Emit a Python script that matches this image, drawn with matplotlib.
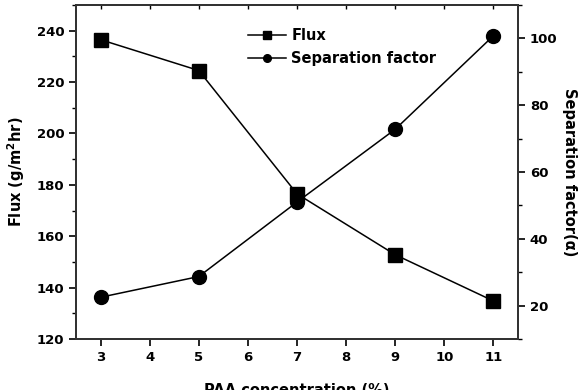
import matplotlib.pyplot as plt
from matplotlib.ticker import MultipleLocator

# data
paa = [3, 5, 7, 9, 11]
flux = [236.5, 224.5, 176.5, 152.8, 134.8]
sep_factor = [22.5, 28.7, 51, 72.8, 100.8]

plt.rcParams['font.family'] = 'DejaVu Sans'
plt.rcParams['font.weight'] = 'bold'
plt.rcParams['font.size'] = 9.5

fig = plt.figure(figsize=(5.81, 3.90), dpi=100)
ax = fig.add_axes([76 / 581, 1 - 339 / 390, 442 / 581, 334 / 390])
ax2 = ax.twinx()

l1, = ax.plot(paa, flux, color='black', lw=1.1, marker='s', ms=10, label='Flux')
l2, = ax2.plot(paa, sep_factor, color='black', lw=1.1, marker='o', ms=10,
               label='Separation factor')

ax.set_xlim(2.5, 11.5)
ax.set_ylim(120, 250)
ax2.set_ylim(10, 110)
ax.set_xticks(range(3, 12))
ax.set_yticks(range(120, 241, 20))
ax.yaxis.set_minor_locator(MultipleLocator(10))
ax2.set_yticks(range(20, 101, 20))
ax2.yaxis.set_minor_locator(MultipleLocator(10))

for a in (ax, ax2):
    for s in a.spines.values():
        s.set_linewidth(1.4)
        s.set_color('#333333')
ax.tick_params(axis='both', which='major', direction='out', length=5, width=1.2)
ax.tick_params(axis='y', which='minor', direction='out', length=3, width=1)
ax2.tick_params(axis='y', which='major', direction='out', length=5, width=1.2)
ax2.tick_params(axis='y', which='minor', direction='out', length=3, width=1)

top = ax.secondary_xaxis('top')
top.set_xticks(range(3, 12))
top.tick_params(direction='in', length=3, width=1, labeltop=False)
top.spines['top'].set_linewidth(1.4)
top.spines['top'].set_color('#333333')

ax.set_xlabel('PAA concentration (%)', fontsize=10.5, fontweight='bold', labelpad=14)
ax.set_ylabel('Flux (g/m$^\\mathbf{2}$hr)', fontsize=10.5, fontweight='bold', labelpad=7)
ax2.set_ylabel('Separation factor(\u03b1)', fontsize=10.5, fontweight='bold',
               rotation=270, labelpad=14)

ax.legend(handles=[l1, l2], loc='upper left', bbox_to_anchor=(0.36, 0.97),
          frameon=False, markerscale=0.55, handlelength=2.6, handletextpad=0.35,
          labelspacing=0.55, fontsize=10.5)

fig.savefig('out.png', dpi=100)
